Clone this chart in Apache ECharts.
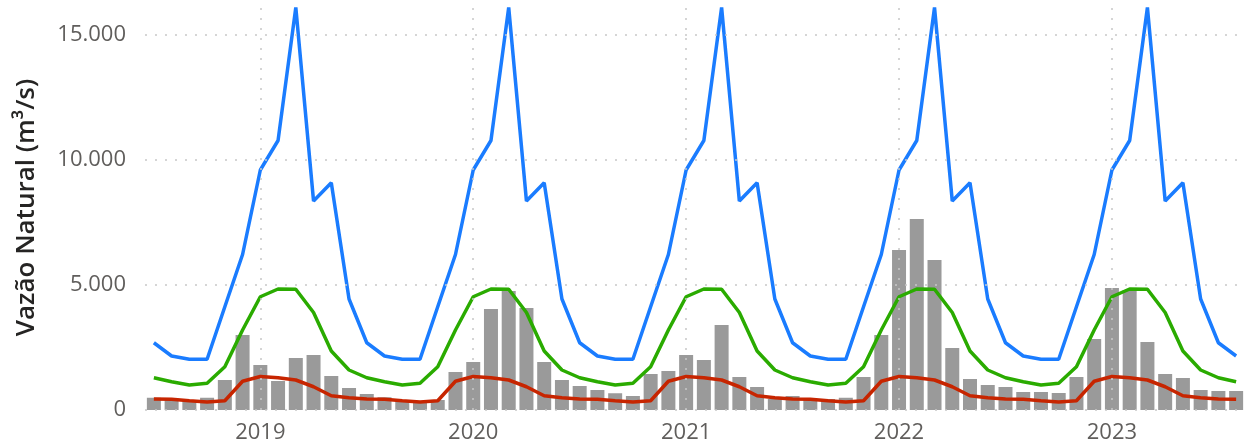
<!DOCTYPE html>
<html>
<head>
<meta charset="utf-8">
<script src="https://cdn.jsdelivr.net/npm/echarts@6/dist/echarts.min.js"></script>
<style>
  html, body { margin: 0; padding: 0; background: #ffffff; }
  #chart { width: 1245px; height: 446px; }
</style>
</head>
<body>
<div id="chart"></div>
<script>
// Monthly categories (Jul 2018 – Aug 2023)
const categories = [
  '2018-07','2018-08','2018-09','2018-10','2018-11','2018-12',
  '2019-01','2019-02','2019-03','2019-04','2019-05','2019-06','2019-07','2019-08','2019-09','2019-10','2019-11','2019-12',
  '2020-01','2020-02','2020-03','2020-04','2020-05','2020-06','2020-07','2020-08','2020-09','2020-10','2020-11','2020-12',
  '2021-01','2021-02','2021-03','2021-04','2021-05','2021-06','2021-07','2021-08','2021-09','2021-10','2021-11','2021-12',
  '2022-01','2022-02','2022-03','2022-04','2022-05','2022-06','2022-07','2022-08','2022-09','2022-10','2022-11','2022-12',
  '2023-01','2023-02','2023-03','2023-04','2023-05','2023-06','2023-07','2023-08'
];

// Observed natural flow (m³/s), one per month
const vazaoObservada = [
  490, 450, 400, 490, 1200, 3000,
  1800, 1160, 2080, 2200, 1360, 880, 640, 510, 350, 300, 400, 1520,
  1920, 4040, 4760, 4080, 1920, 1200, 960, 800, 670, 560, 1440, 1560,
  2200, 2000, 3400, 1320, 920, 440, 560, 460, 440, 490, 1320, 3000,
  6400, 7640, 6000, 2480, 1240, 1000, 920, 720, 720, 680, 1320, 2840,
  4880, 4800, 2720, 1440, 1280, 800, 760, 760
];

// Monthly climatology, January..December
const maxByMonth  = [9600, 10780, 16100, 8360, 9090, 4440, 2690, 2160, 2030, 2030, 4130, 6220];
const meanByMonth = [4530, 4840, 4830, 3900, 2360, 1600, 1290, 1130, 1000, 1070, 1730, 3200];
const minByMonth  = [1340, 1290, 1200, 930, 570, 490, 440, 430, 370, 320, 370, 1150];

// Axis ticks
const yTicks = [0, 5000, 10000, 15000];
const yearMarks = ['2019-01', '2020-01', '2021-01', '2022-01', '2023-01'];

const byMonth = (arr) => categories.map(c => arr[parseInt(c.slice(5, 7), 10) - 1]);

const gridStyle = { color: '#c8c8c8', width: 1.5, type: [2, 8] };
const fmt = (v) => String(v).replace(/\B(?=(\d{3})+(?!\d))/g, '.');

const chart = echarts.init(document.getElementById('chart'), null, { renderer: 'canvas' });
chart.setOption({
  animation: false,
  backgroundColor: '#ffffff',
  grid: { left: 145, top: 5, height: 405, width: 1110, containLabel: false },
  xAxis: {
    type: 'category',
    data: categories,
    boundaryGap: true,
    axisLine: { show: false },
    axisTick: { show: false },
    splitLine: { show: false },
    axisLabel: {
      interval: (idx, value) => value.endsWith('-01'),
      formatter: (value) => value.slice(0, 4),
      color: '#605e5c',
      fontFamily: 'Open Sans',
      fontSize: 22,
      margin: 12
    }
  },
  yAxis: {
    type: 'value',
    min: 0,
    max: 16200,
    interval: 5000,
    name: 'Vazão Natural (m³/s)',
    nameLocation: 'middle',
    nameGap: 105,
    nameTextStyle: { color: '#252423', fontFamily: 'Open Sans', fontSize: 26, fontWeight: 600 },
    axisLine: { show: false },
    axisTick: { show: false },
    splitLine: { show: false },
    axisLabel: {
      showMaxLabel: false,
      formatter: (v) => fmt(v),
      color: '#605e5c',
      fontFamily: 'Open Sans',
      fontSize: 22,
      margin: 19
    }
  },
  series: [
    {
      name: 'Vazão Natural',
      type: 'bar',
      data: vazaoObservada,
      barWidth: 14,
      itemStyle: { color: '#9a9a9a' },
      z: 1,
      markLine: {
        silent: true,
        symbol: 'none',
        label: { show: false },
        lineStyle: gridStyle,
        data: yTicks.map(v => ({ yAxis: v })).concat(yearMarks.map(m => ({ xAxis: m })))
      }
    },
    {
      name: 'Máxima',
      type: 'line',
      data: byMonth(maxByMonth),
      symbol: 'none',
      lineStyle: { color: '#1a7cff', width: 3.5 },
      itemStyle: { color: '#1a7cff' },
      z: 3
    },
    {
      name: 'Média',
      type: 'line',
      data: byMonth(meanByMonth),
      symbol: 'none',
      lineStyle: { color: '#2aab00', width: 3.5 },
      itemStyle: { color: '#2aab00' },
      z: 3
    },
    {
      name: 'Mínima',
      type: 'line',
      data: byMonth(minByMonth),
      symbol: 'none',
      lineStyle: { color: '#c72500', width: 3.5 },
      itemStyle: { color: '#c72500' },
      z: 3
    }
  ]
});
</script>
</body>
</html>
